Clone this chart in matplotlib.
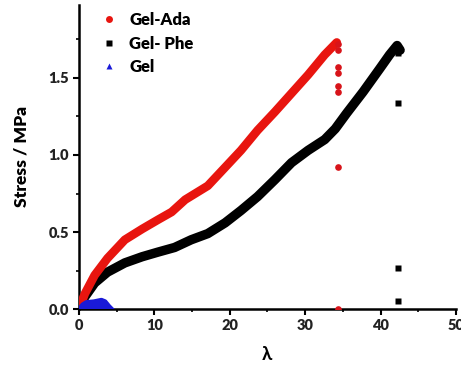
import matplotlib
matplotlib.use("Agg")
import matplotlib.pyplot as plt
from matplotlib.lines import Line2D
from matplotlib.ticker import MultipleLocator

# Gel-Ada (red) curve
ada_x = [0, 0.8, 2.1, 3.8, 6.1, 8.4, 10.5, 12.3, 14.1, 17.1, 19.4, 21.5, 23.7, 26.0, 28.2, 30.4, 32.6, 34.2]
ada_y = [0.0, 0.10, 0.22, 0.33, 0.45, 0.52, 0.58, 0.63, 0.71, 0.80, 0.92, 1.03, 1.16, 1.28, 1.40, 1.52, 1.65, 1.73]
ada_drop_x = [34.3, 34.3, 34.3, 34.3, 34.3, 34.3, 34.3, 34.3]
ada_drop_y = [1.72, 1.68, 1.57, 1.53, 1.45, 1.41, 0.92, 0.0]

# Gel-Phe (black) curve
phe_x = [0, 0.8, 2.1, 3.8, 6.1, 8.4, 10.5, 12.7, 14.9, 17.1, 19.4, 21.5, 23.7, 26.0, 28.2, 30.4, 32.6, 34.0, 35.5, 37.7, 39.9, 41.2, 42.2, 42.6]
phe_y = [0.0, 0.08, 0.17, 0.24, 0.30, 0.34, 0.37, 0.40, 0.45, 0.49, 0.56, 0.64, 0.73, 0.84, 0.95, 1.03, 1.10, 1.17, 1.27, 1.41, 1.56, 1.65, 1.71, 1.68]
phe_drop_x = [42.3, 42.3, 42.3, 42.3]
phe_drop_y = [1.66, 1.34, 0.27, 0.05]

# Gel (blue) curve
gel_x = [0, 0.5, 1.0, 2.0, 3.0, 3.5, 4.0, 4.4]
gel_y = [0.0, 0.03, 0.045, 0.05, 0.06, 0.05, 0.02, 0.0]

labels = ["Gel-Ada", "Gel- Phe", "Gel"]
x_ticks = [0, 10, 20, 30, 40, 50]
y_ticks = [0.0, 0.5, 1.0, 1.5]

plt.rcParams['font.family'] = ['Lato', 'DejaVu Sans']
plt.rcParams['font.weight'] = 'bold'

fig = plt.figure(figsize=(4.61, 3.72), dpi=100)
ax = fig.add_axes([0.171, 0.169, 0.818, 0.818])

red = '#e8150f'
ax.plot(ada_x, ada_y, color=red, lw=6.2, solid_capstyle='round', solid_joinstyle='round', zorder=3)
ax.plot(ada_drop_x, ada_drop_y, 'o', color='#d8141a', ms=4.8, mec='none', zorder=3)
ax.plot(phe_x, phe_y, color='black', lw=6.8, solid_capstyle='round', solid_joinstyle='round', zorder=2)
ax.plot(phe_drop_x, phe_drop_y, 's', color='black', ms=5, mec='none', zorder=2)
ax.fill(gel_x, gel_y, color='#1a1ad8', zorder=4)
ax.plot(gel_x, gel_y, color='#1a1ad8', lw=3, zorder=4)

ax.set_xlim(0, 50)
ax.set_ylim(0, 1.974)
ax.set_xticks(x_ticks)
ax.set_yticks(y_ticks)
ax.set_yticklabels([f"{v:.1f}" for v in y_ticks])
ax.xaxis.set_minor_locator(MultipleLocator(5))
ax.yaxis.set_minor_locator(MultipleLocator(0.25))
ax.tick_params(which='major', direction='out', length=4, width=1.5, labelsize=10.5, colors='black', labelcolor='#222222', pad=3)
ax.tick_params(which='minor', direction='out', length=2.5, width=1.2)
for lab in ax.get_xticklabels() + ax.get_yticklabels():
    lab.set_fontweight('heavy')

for s in ['top', 'right']:
    ax.spines[s].set_visible(False)
for s in ['left', 'bottom']:
    ax.spines[s].set_linewidth(1.8)

ax.set_ylabel("Stress / MPa", fontsize=12.5, fontweight='heavy', labelpad=14)
ax.set_xlabel("λ", fontsize=13.5, fontweight='bold', labelpad=10)

handles = [
    Line2D([], [], ls='none', marker='o', color=red, ms=5, mec='none'),
    Line2D([], [], ls='none', marker='s', color='black', ms=4.5, mec='none'),
    Line2D([], [], ls='none', marker='^', color='#1a1ad8', ms=5, mec='none'),
]
leg = ax.legend(handles, labels, loc='upper left', bbox_to_anchor=(0.015, 1.025), frameon=False,
                prop={'size': 12, 'weight': 'heavy'}, handletextpad=0.6, labelspacing=0.45,
                handlelength=1.2)

fig.savefig("out.png", dpi=100)
